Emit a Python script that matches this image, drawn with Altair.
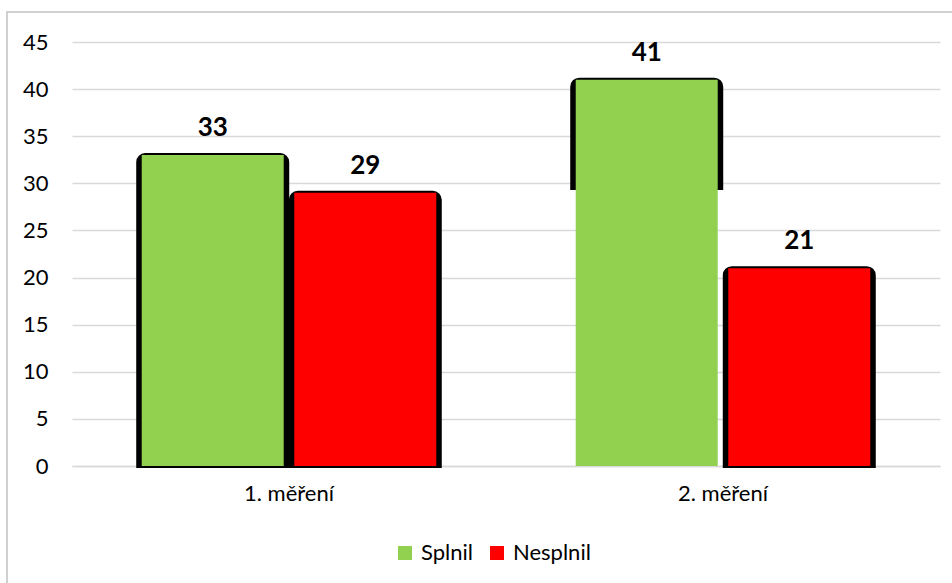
import altair as alt
import pandas as pd

# Počet žáků, kteří test splnili / nesplnili, ve dvou měřeních
categories = ["1. měření", "1. měření", "2. měření", "2. měření"]
series = ["Splnil", "Nesplnil", "Splnil", "Nesplnil"]
values = [33, 29, 41, 21]
# where the dark bar outline starts (from the baseline)
outline_base = [0, 0, 29.5, 0]

order = ["Splnil", "Nesplnil"]
colors = ["#92D050", "#FF0000"]

df = pd.DataFrame({
    "mereni": categories,
    "vysledek": series,
    "pocet": values,
    "okraj": outline_base,
})

FONT = "Lato"

x_enc = alt.X(
    "mereni:N",
    title=None,
    sort=["1. měření", "2. měření"],
    scale=alt.Scale(paddingInner=0.297, paddingOuter=0.1485),
    axis=alt.Axis(labelAngle=0, ticks=False, domain=True, domainColor="#D9D9D9",
                  domainWidth=1.5, labelPadding=17, labelFontSize=22, grid=False),
)
xo_enc = alt.XOffset(
    "vysledek:N", sort=order,
    scale=alt.Scale(domain=order, paddingInner=0, paddingOuter=0),
)
y_scale = alt.Scale(domain=[0, 45], nice=False)
y_axis = alt.Axis(values=list(range(0, 46, 5)), grid=True, gridColor="#D9D9D9",
                  gridWidth=1.5, domain=False, ticks=False, labelPadding=24,
                  labelFontSize=22)

base = alt.Chart(df)

outline = base.mark_bar(
    color="black", stroke="black", strokeWidth=4, width=149,
    cornerRadiusTopLeft=7, cornerRadiusTopRight=7,
).encode(
    x=x_enc, xOffset=xo_enc,
    y=alt.Y("pocet:Q", title=None, scale=y_scale, axis=y_axis),
    y2="okraj:Q",
)

bars = base.mark_bar(width=142).encode(
    x=x_enc, xOffset=xo_enc,
    y=alt.Y("pocet:Q", title=None, scale=y_scale),
    color=alt.Color(
        "vysledek:N", sort=order,
        scale=alt.Scale(domain=order, range=colors),
        legend=alt.Legend(
            title=None, orient="none", direction="horizontal",
            legendX=322, legendY=500, symbolType="square", symbolSize=196,
            symbolStrokeWidth=0, labelFontSize=22, labelFont=FONT,
            labelOffset=5, columnPadding=13, padding=0,
        ),
    ),
)

labels = base.mark_text(
    font=FONT, fontSize=26, fontWeight="bold", color="black", dy=-19,
    baseline="alphabetic",
).encode(
    x=x_enc, xOffset=xo_enc,
    y=alt.Y("pocet:Q", scale=y_scale),
    text="pocet:Q",
)

frame = alt.Chart(pd.DataFrame({"k": [0]})).mark_rect(
    fillOpacity=0, stroke="#D0D0D0", strokeWidth=2,
).encode(
    x=alt.value(-65), x2=alt.value(1000),
    y=alt.value(-30), y2=alt.value(700),
)

chart = alt.layer(frame, outline, bars, labels).properties(
    width=868, height=424,
    autosize=alt.AutoSizeParams(type="none"),
    padding={"left": 72, "top": 42, "right": 12, "bottom": 117},
    background="white",
).configure_view(stroke=None).configure_axis(
    labelFont=FONT, labelColor="#000000",
).configure_text(font=FONT)

chart.save("out.html", embed_options={"renderer": "svg", "actions": False})
